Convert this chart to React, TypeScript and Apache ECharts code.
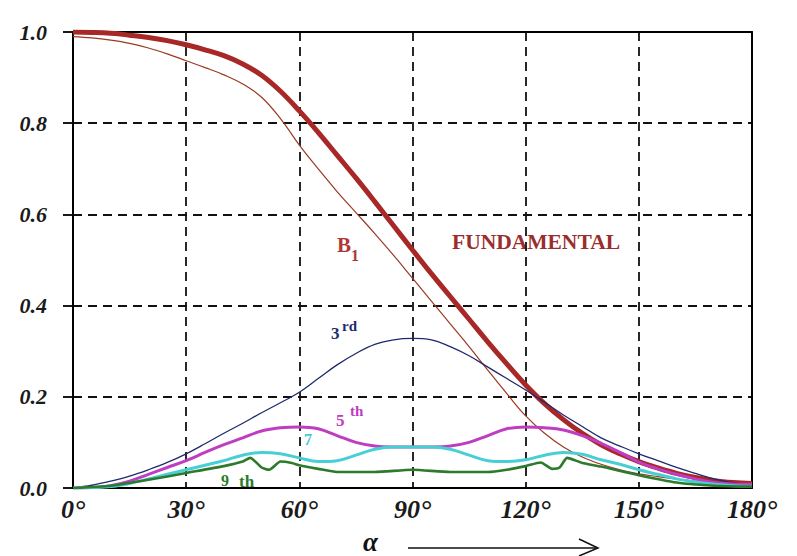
import React, { useEffect, useRef } from "react";
import * as echarts from "echarts";

// ---- data ----
const angles = [0, 5, 10, 15, 20, 25, 30, 35, 40, 45, 50, 55, 60, 65, 70, 75, 80, 85, 90, 95, 100, 105, 110, 115, 120, 125, 130, 135, 140, 145, 150, 155, 160, 165, 170, 175, 180];
const fundamentalThick = [1.0, 0.999, 0.997, 0.993, 0.988, 0.981, 0.972, 0.961, 0.948, 0.93, 0.905, 0.87, 0.827, 0.78, 0.73, 0.68, 0.628, 0.575, 0.522, 0.47, 0.42, 0.37, 0.32, 0.272, 0.226, 0.185, 0.15, 0.12, 0.095, 0.075, 0.058, 0.044, 0.032, 0.023, 0.016, 0.012, 0.01];
const fundamentalThin = [0.99, 0.987, 0.982, 0.975, 0.965, 0.952, 0.937, 0.922, 0.906, 0.886, 0.857, 0.81, 0.752, 0.7, 0.65, 0.604, 0.558, 0.51, 0.46, 0.41, 0.36, 0.31, 0.258, 0.207, 0.158, 0.12, 0.09, 0.068, 0.052, 0.04, 0.031, 0.025, 0.02, 0.015, 0.01, 0.007, 0.005];
const third = [0, 0.006, 0.015, 0.026, 0.04, 0.056, 0.075, 0.097, 0.12, 0.142, 0.165, 0.187, 0.21, 0.24, 0.27, 0.295, 0.315, 0.325, 0.328, 0.325, 0.31, 0.29, 0.265, 0.24, 0.215, 0.188, 0.16, 0.135, 0.11, 0.092, 0.075, 0.06, 0.045, 0.032, 0.02, 0.012, 0.007];
const fifth = [0, 0.001, 0.005, 0.015, 0.03, 0.045, 0.06, 0.078, 0.095, 0.11, 0.125, 0.132, 0.134, 0.13, 0.115, 0.1, 0.092, 0.09, 0.09, 0.09, 0.092, 0.1, 0.115, 0.13, 0.134, 0.132, 0.127, 0.115, 0.098, 0.078, 0.057, 0.042, 0.03, 0.02, 0.012, 0.009, 0.008];
const seventh = [0, 0.001, 0.003, 0.01, 0.02, 0.03, 0.04, 0.05, 0.06, 0.072, 0.078, 0.075, 0.066, 0.058, 0.06, 0.072, 0.085, 0.09, 0.09, 0.09, 0.085, 0.072, 0.06, 0.058, 0.062, 0.072, 0.078, 0.074, 0.062, 0.052, 0.04, 0.03, 0.02, 0.013, 0.008, 0.005, 0.004];
const ninthAngles = [0, 10, 20, 30, 40, 45, 47, 50, 52, 55, 58, 60, 65, 70, 80, 90, 100, 110, 115, 120, 124, 127, 129, 131, 135, 140, 150, 160, 170, 180];
const ninth = [0, 0.005, 0.018, 0.033, 0.048, 0.058, 0.066, 0.045, 0.04, 0.058, 0.055, 0.05, 0.042, 0.035, 0.035, 0.04, 0.035, 0.035, 0.04, 0.048, 0.056, 0.042, 0.045, 0.066, 0.055, 0.047, 0.028, 0.012, 0.005, 0.003];
const yTicks = [0, 0.2, 0.4, 0.6, 0.8, 1.0];
const xTicks = [0, 30, 60, 90, 120, 150, 180];

const pairs = (xs: number[], ys: number[]) => xs.map((x, i) => [x, ys[i]]);

const SERIF = "'Liberation Serif', 'DejaVu Serif', serif";

export default function App() {
  const ref = useRef<HTMLDivElement>(null);
  useEffect(() => {
    if (!ref.current) return;
    const chart = echarts.init(ref.current, null, { renderer: "svg" });
    const dashed = { color: "#111", width: 1.8, type: [9, 6] as number[] };
    const line = (name: string, data: number[][], color: string, width: number, smooth: number | boolean) => ({
      name,
      type: "line",
      data,
      showSymbol: false,
      symbol: "none",
      smooth,
      lineStyle: { color, width },
      itemStyle: { color },
      z: 3,
    });
    chart.setOption({
      animation: false,
      backgroundColor: "#ffffff",
      grid: { left: 73, right: 45, top: 32, bottom: 68, containLabel: false },
      xAxis: [
        {
          type: "value",
          min: xTicks[0],
          max: xTicks[xTicks.length - 1],
          interval: 30,
          axisLine: { show: true, lineStyle: { color: "#000", width: 2 } },
          axisTick: { show: false },
          splitLine: { show: true, lineStyle: dashed },
          axisLabel: {
            margin: 8,
            fontSize: 26,
            fontFamily: SERIF,
            fontWeight: "bold",
            fontStyle: "italic",
            color: "#1a1a1a",
            formatter: (v: number) => `{n|${v}}{s|°}`,
            rich: {
              n: { fontFamily: SERIF, fontSize: 26, fontWeight: "bold", fontStyle: "italic", color: "#1a1a1a", lineHeight: 26 },
              s: { fontFamily: SERIF, fontSize: 28, fontStyle: "italic", color: "#1a1a1a", lineHeight: 26 },
            },
          },
        },
        {
          type: "value",
          position: "top",
          min: 0,
          max: 180,
          interval: 30,
          axisLine: { show: true, onZero: false, lineStyle: { color: "#000", width: 2 } },
          axisTick: { show: false },
          axisLabel: { show: false },
          splitLine: { show: false },
        },
      ],
      yAxis: [
        {
          type: "value",
          min: yTicks[0],
          max: yTicks[yTicks.length - 1],
          interval: 0.2,
          axisLine: { show: true, lineStyle: { color: "#000", width: 2 } },
          axisTick: { show: true, length: 10, lineStyle: { color: "#000", width: 1.8 } },
          splitLine: { show: true, lineStyle: dashed },
          axisLabel: {
            margin: 26,
            formatter: (v: number) => v.toFixed(1),
            fontFamily: SERIF,
            fontSize: 22,
            fontWeight: "bold",
            fontStyle: "italic",
            color: "#1a1a1a",
          },
        },
        {
          type: "value",
          position: "right",
          min: 0,
          max: 1,
          interval: 0.2,
          axisLine: { show: true, onZero: false, lineStyle: { color: "#000", width: 2 } },
          axisTick: { show: false },
          axisLabel: { show: false },
          splitLine: { show: false },
        },
      ],
      series: [
        line("B1", pairs(angles, fundamentalThick), "#a82828", 5, 0.4),
        line("B1 thin", pairs(angles, fundamentalThin), "#9a3a22", 1.2, 0.4),
        line("3rd", pairs(angles, third), "#1e2a6e", 1.3, 0.4),
        line("5th", pairs(angles, fifth), "#c03cc0", 3, 0.4),
        line("7th", pairs(angles, seventh), "#48cfd6", 3, 0.4),
        line("9th", pairs(ninthAngles, ninth), "#2c7a2c", 2.6, 0.2),
      ],
      graphic: [
        { type: "text", left: 337, top: 234, style: { text: "B", font: `bold 21px ${SERIF}`, fill: "#b03838" } },
        { type: "text", left: 351, top: 247, style: { text: "1", font: `bold 16px ${SERIF}`, fill: "#b03838" } },
        { type: "text", left: 452, top: 231, style: { text: "FUNDAMENTAL", font: `bold 21.5px ${SERIF}`, fill: "#9b2d2d" } },
        { type: "text", left: 331, top: 325, style: { text: "3", font: `bold 17px ${SERIF}`, fill: "#1e2a6e" } },
        { type: "text", left: 342, top: 318, style: { text: "rd", font: `bold 15px ${SERIF}`, fill: "#1e2a6e" } },
        { type: "text", left: 336, top: 412, style: { text: "5", font: `bold 17px ${SERIF}`, fill: "#c03cc0" } },
        { type: "text", left: 350, top: 403, style: { text: "th", font: `bold 15px ${SERIF}`, fill: "#c03cc0" } },
        { type: "text", left: 304, top: 431, style: { text: "7", font: `bold 16px ${SERIF}`, fill: "#48c6d6" } },
        { type: "text", left: 221, top: 472, style: { text: "9", font: `bold 16px ${SERIF}`, fill: "#2c7a2c" } },
        { type: "text", left: 239, top: 473, style: { text: "th", font: `bold 17px ${SERIF}`, fill: "#2c7a2c" } },
        { type: "text", left: 363, top: 528, style: { text: "α", font: `italic bold 27px ${SERIF}`, fill: "#111" } },
        { type: "line", shape: { x1: 408, y1: 548, x2: 597, y2: 548 }, style: { stroke: "#111", lineWidth: 1.6 } },
        { type: "polyline", shape: { points: [[579, 539], [598, 548], [579, 556]] }, style: { stroke: "#111", lineWidth: 1.5, fill: "none" } },
      ],
    });
    return () => chart.dispose();
  }, []);
  return <div ref={ref} style={{ position: "absolute", left: 0, top: 0, width: 797, height: 556 }} />;
}
